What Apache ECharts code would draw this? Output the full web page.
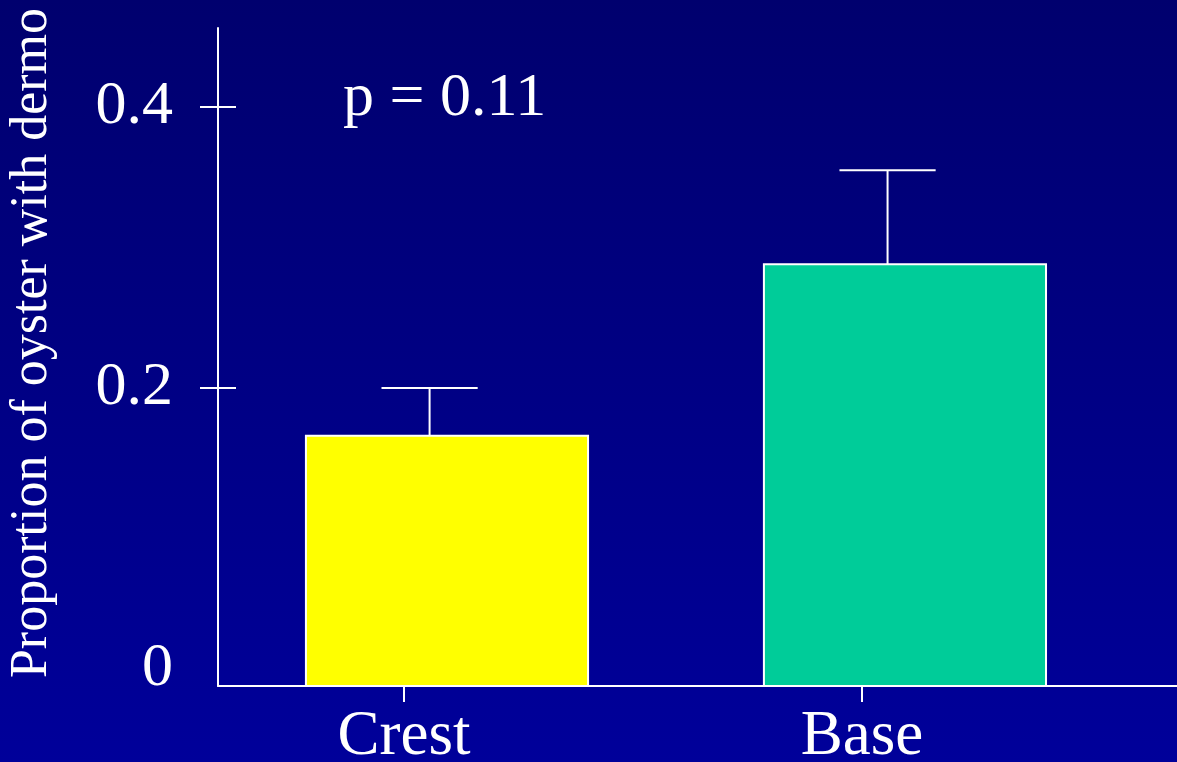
<!DOCTYPE html>
<html>
<head>
<meta charset="utf-8">
<script src="https://cdn.jsdelivr.net/npm/echarts@6/dist/echarts.min.js"></script>
<style>
html,body{margin:0;padding:0;background:#000080;}
#chart{width:1177px;height:762px;}
</style>
</head>
<body>
<div id="chart"></div>
<script>
// ---- data ----
const categories = ['Crest', 'Base'];
const proportions = [0.166, 0.288];
const errorsUp = [0.034, 0.067];
const yTickValues = [0.2, 0.4];
const yLabelValues = [0, 0.2, 0.4];
const annotation = 'p = 0.11';
const yAxisName = 'Proportion of oyster with dermo';

// ---- styles ----
const barColors = ['#FFFF00', '#00CC99'];
const FONT = "'Liberation Serif', 'Times New Roman', serif";
const BAR_W = 0.616;      // bar width in category units
const STEM_SHIFT = -0.038; // error stem offset from bar centre
const CAP_W = 0.21;
const TICK_SHIFT = -0.094; // category tick offset

const chart = echarts.init(document.getElementById('chart'));

const barData = proportions.map((v, i) => ({ value: [i + 1, v], itemStyle: { color: barColors[i] } }));
const errData = proportions.map((v, i) => [i + 1, v, v + errorsUp[i]]);
const catTicks = categories.map((c, i) => i + 1 + TICK_SHIFT);

const option = {
  animation: false,
  backgroundColor: new echarts.graphic.LinearGradient(0, 0, 0, 1, [
    { offset: 0, color: '#00006E' },
    { offset: 1, color: '#00009A' }
  ]),
  grid: { left: 218, right: 0, top: 28, bottom: 76, containLabel: false, outerBoundsMode: 'none' },
  xAxis: {
    type: 'value',
    min: 0.5,
    max: 2.594,
    axisLine: { show: true, onZero: false, lineStyle: { color: '#fff', width: 2 } },
    axisTick: { show: true, length: 16, customValues: catTicks, lineStyle: { color: '#fff', width: 2 } },
    axisLabel: {
      show: true,
      customValues: catTicks,
      margin: 20,
      color: '#fff',
      fontFamily: FONT,
      fontSize: 63,
      formatter: (v) => categories[Math.round(v - TICK_SHIFT) - 1]
    },
    splitLine: { show: false }
  },
  yAxis: [{
    type: 'value',
    min: -0.0121,
    max: 0.4562,
    name: yAxisName,
    nameLocation: 'middle',
    nameRotate: 90,
    nameGap: 160,
    nameTextStyle: { color: '#fff', fontFamily: FONT, fontSize: 52, padding: [0, 0, 0, 28] },
    axisLine: { show: true, onZero: false, lineStyle: { color: '#fff', width: 2 } },
    axisTick: { show: true, length: 18, customValues: yTickValues, lineStyle: { color: '#fff', width: 2 } },
    axisLabel: {
      show: true,
      customValues: yLabelValues,
      margin: 45,
      color: '#fff',
      fontFamily: FONT,
      fontSize: 62,
      formatter: (v) => (v === 0 ? '0' : v.toFixed(1))
    },
    splitLine: { show: false }
  }, {
    type: 'value',
    position: 'left',
    min: -0.0121,
    max: 0.4562,
    axisLine: { show: false },
    axisTick: { show: true, inside: true, length: 18, customValues: yTickValues, lineStyle: { color: '#fff', width: 2 } },
    axisLabel: { show: false },
    splitLine: { show: false }
  }],
  graphic: [{
    type: 'text',
    left: 343,
    top: 68,
    style: { text: annotation, fill: '#fff', font: '62px ' + FONT }
  }],
  series: [{
    type: 'custom',
    name: 'bars',
    data: barData,
    renderItem: (params, api) => {
      const x = api.value(0), v = api.value(1);
      const pt = api.coord([x, v]);
      const w = api.size([BAR_W, 0])[0];
      const bottom = params.coordSys.y + params.coordSys.height;
      return {
        type: 'rect',
        shape: { x: pt[0] - w / 2, y: pt[1], width: w, height: bottom - pt[1] },
        style: { fill: api.visual('color'), stroke: '#fff', lineWidth: 2 }
      };
    }
  }, {
    type: 'custom',
    name: 'errors',
    data: errData,
    z: 3,
    renderItem: (params, api) => {
      const x = api.value(0) + STEM_SHIFT;
      const lo = api.coord([x, api.value(1)]);
      const hi = api.coord([x, api.value(2)]);
      const cw = api.size([CAP_W, 0])[0];
      const st = { stroke: '#fff', lineWidth: 2 };
      return {
        type: 'group',
        children: [
          { type: 'line', shape: { x1: lo[0], y1: lo[1], x2: hi[0], y2: hi[1] }, style: st },
          { type: 'line', shape: { x1: hi[0] - cw / 2, y1: hi[1], x2: hi[0] + cw / 2, y2: hi[1] }, style: st }
        ]
      };
    }
  }]
};
chart.setOption(option);
</script>
</body>
</html>
